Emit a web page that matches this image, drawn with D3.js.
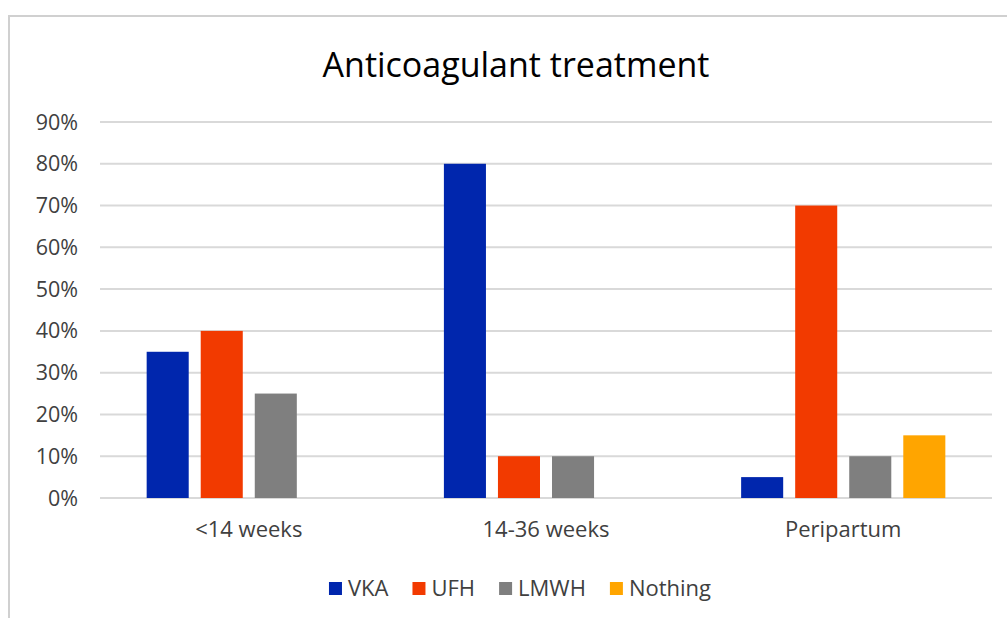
<!DOCTYPE html>
<html>
<head>
<meta charset="utf-8">
<script src="https://cdn.jsdelivr.net/npm/d3@7"></script>
<style>
  body { margin: 0; background: #fff; }
  text { font-family: "Open Sans", "Noto Sans", sans-serif; fill: #404040; }
</style>
</head>
<body>
<script>
var categories = ["<14 weeks", "14-36 weeks", "Peripartum"];
var seriesNames = ["VKA", "UFH", "LMWH", "Nothing"];
var seriesColors = ["#0026ad", "#f23a00", "#7f7f7f", "#ffa500"];
var vka = [0.35, 0.80, 0.05];
var ufh = [0.40, 0.10, 0.70];
var lmwh = [0.25, 0.10, 0.10];
var nothing = [0, 0, 0.15];
var yTicks = [0, 0.1, 0.2, 0.3, 0.4, 0.5, 0.6, 0.7, 0.8, 0.9];

var W = 1007, H = 618;
var seriesValues = [vka, ufh, lmwh, nothing];

var svg = d3.select("body").append("svg")
    .attr("width", W)
    .attr("height", H);

// chart frame (cut off at right and bottom like the screenshot)
svg.append("rect")
    .attr("x", 9).attr("y", 16)
    .attr("width", 1030).attr("height", 640)
    .attr("fill", "#fff")
    .attr("stroke", "#d0d0d0")
    .attr("stroke-width", 2);

svg.append("text")
    .attr("x", 516).attr("y", 77)
    .attr("text-anchor", "middle")
    .style("font-size", "34px")
    .style("fill", "#000")
    .text("Anticoagulant treatment");

var x0 = d3.scaleBand()
    .domain(categories)
    .range([100, 992])
    .paddingInner(0.313)
    .paddingOuter(0.157);

var x1 = d3.scaleBand()
    .domain(seriesNames)
    .range([0, x0.bandwidth()])
    .paddingInner(0.222);

var y = d3.scaleLinear().domain([0, 0.9]).range([498, 122]);

// gridlines
svg.append("g").selectAll("line")
    .data(yTicks)
  .enter().append("line")
    .attr("x1", 100).attr("x2", 992)
    .attr("y1", function(d) { return y(d); })
    .attr("y2", function(d) { return y(d); })
    .attr("stroke", "#d9d9d9")
    .attr("stroke-width", 2);

// y tick labels
svg.append("g").selectAll("text")
    .data(yTicks)
  .enter().append("text")
    .attr("x", 78)
    .attr("y", function(d) { return y(d); })
    .attr("dy", "0.35em")
    .attr("text-anchor", "end")
    .style("font-size", "21.5px")
    .text(function(d) { return d3.format(".0%")(d); });

// bars
var groups = svg.append("g").selectAll("g")
    .data(categories)
  .enter().append("g")
    .attr("transform", function(d) { return "translate(" + x0(d) + ",0)"; });

groups.selectAll("rect")
    .data(function(c, i) {
      return seriesNames.map(function(s, j) { return {s: s, v: seriesValues[j][i], c: seriesColors[j]}; });
    })
  .enter().append("rect")
    .attr("x", function(d) { return x1(d.s); })
    .attr("width", x1.bandwidth())
    .attr("y", function(d) { return y(d.v); })
    .attr("height", function(d) { return y(0) - y(d.v); })
    .attr("fill", function(d) { return d.c; });

// category labels
svg.append("g").selectAll("text")
    .data(categories)
  .enter().append("text")
    .attr("x", function(d) { return x0(d) + x0.bandwidth() / 2; })
    .attr("y", 537)
    .attr("text-anchor", "middle")
    .style("font-size", "22px")
    .text(function(d) { return d; });

// legend
var legend = svg.append("g");
var lx = 0;
seriesNames.forEach(function(s, i) {
  legend.append("rect")
      .attr("x", lx).attr("y", 582)
      .attr("width", 13).attr("height", 13)
      .attr("fill", seriesColors[i]);
  var t = legend.append("text")
      .attr("x", lx + 19).attr("y", 596)
      .style("font-size", "22px")
      .text(s);
  lx += 19 + t.node().getComputedTextLength() + 24;
});
lx -= 24;
legend.attr("transform", "translate(" + (520 - lx / 2) + ",0)");
</script>
</body>
</html>
